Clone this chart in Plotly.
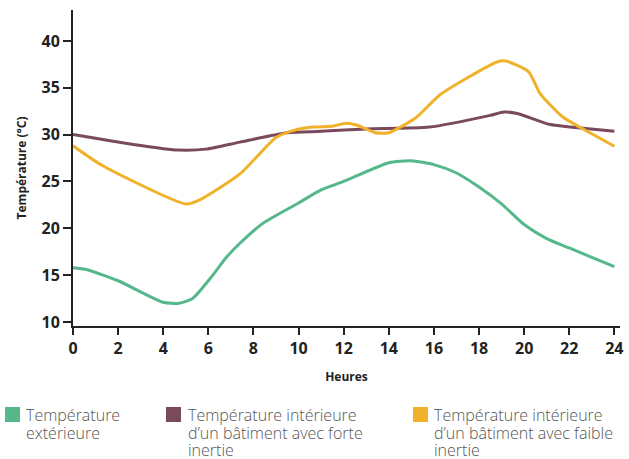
import plotly.graph_objects as go

# Température extérieure
ext_h = [0, 0.6, 2, 4, 4.7, 5.3, 6.2, 6.8, 7.4, 8.4, 10, 11, 12, 14, 15, 16, 17, 18, 19, 20, 21, 22, 23, 24]
ext_t = [15.8, 15.6, 14.4, 12.1, 12.0, 12.5, 15.0, 16.9, 18.4, 20.5, 22.7, 24.1, 25.0, 27.0, 27.2, 26.8, 25.9, 24.4, 22.6, 20.4, 18.9, 17.9, 16.9, 15.9]

# Bâtiment avec forte inertie
forte_h = [0, 1, 2.4, 4, 4.7, 5.9, 7.4, 9.5, 11, 13, 15.8, 18.5, 19.1, 19.7, 21.1, 22.5, 24]
forte_t = [30.0, 29.6, 29.05, 28.5, 28.35, 28.45, 29.2, 30.2, 30.35, 30.6, 30.8, 32.05, 32.4, 32.25, 31.1, 30.7, 30.35]

# Bâtiment avec faible inertie
faible_h = [0, 1.3, 5.0, 5.6, 7.4, 9.0, 9.8, 10.6, 11.5, 12.1, 12.6, 13.4, 14.0, 15.2, 16.3, 18.8, 19.2, 20.2, 20.7, 21.7, 22.5, 24]
faible_t = [28.8, 26.7, 22.6, 23.0, 25.8, 29.7, 30.45, 30.8, 30.9, 31.2, 31.0, 30.2, 30.2, 31.8, 34.3, 37.75, 37.85, 36.7, 34.4, 31.9, 30.75, 28.75]

x_ticks = [0, 2, 4, 6, 8, 10, 12, 14, 16, 18, 20, 22, 24]
y_ticks = [10, 15, 20, 25, 30, 35, 40]

legend_lines = [
    ["Température", "extérieure"],
    ["Température intérieure", "d’un bâtiment avec forte", "inertie"],
    ["Température intérieure", "d’un bâtiment avec faible", "inertie"],
]
line_colors = ["#55B88A", "#7A4A5C", "#F0B22A"]
series = [(ext_h, ext_t), (forte_h, forte_t), (faible_h, faible_t)]

FONT = "Open Sans"

fig = go.Figure()
for (hx, ty), c in zip(series, line_colors):
    fig.add_trace(go.Scatter(x=hx, y=ty, mode="lines",
                             line=dict(color=c, width=3, shape="spline", smoothing=0.6),
                             showlegend=False, hoverinfo="skip"))

# Custom legend below the plot (plot area: left 73px, width 547px, top 10px, height 316px)
PL, PW, PB, PH = 73, 547, 326, 316
def px_x(p):
    return (p - PL) / PW
def px_y(p):
    return (PB - p) / PH

square_left = [5, 166, 413]
text_left = [24, 186, 432]
line_centers = [415, 432.5, 449.5]
shapes = []
annotations = []
for i, c in enumerate(line_colors):
    shapes.append(dict(type="rect", xref="paper", yref="paper",
                       x0=px_x(square_left[i]), x1=px_x(square_left[i] + 15),
                       y0=px_y(422), y1=px_y(407),
                       fillcolor=c, line=dict(width=0)))
    for j, txt in enumerate(legend_lines[i]):
        annotations.append(dict(text=txt, xref="paper", yref="paper",
                                x=px_x(text_left[i]), y=px_y(line_centers[j]),
                                xanchor="left", yanchor="middle", showarrow=False,
                                font=dict(family=FONT, size=16, color="#555555", weight=300)))

fig.update_layout(
    width=629, height=459,
    margin=dict(l=73, r=9, t=10, b=133, autoexpand=False),
    paper_bgcolor="white", plot_bgcolor="white",
    showlegend=False,
    shapes=shapes, annotations=annotations,
    xaxis=dict(range=[0, 24.25], tickvals=x_ticks, ticktext=[str(v) for v in x_ticks],
               showgrid=False, zeroline=False, showline=True, linecolor="#222",
               linewidth=2, ticks="outside", ticklen=7, tickwidth=1.5, tickcolor="#222",
               tickfont=dict(family=FONT, size=16, color="#222", weight="bold"),
               title=dict(text="Heures", standoff=14,
                          font=dict(family=FONT, size=12, color="#222", weight="bold"))),
    yaxis=dict(range=[9.57, 43.3], tickvals=y_ticks, ticktext=[str(v) for v in y_ticks],
               showgrid=False, zeroline=False, showline=True, linecolor="#222",
               linewidth=2, ticks="outside", ticklen=8, tickwidth=1.5, tickcolor="#222",
               tickfont=dict(family=FONT, size=16, color="#222", weight="bold"),
               title=dict(text="Température (°C)", standoff=12,
                          font=dict(family=FONT, size=12, color="#222", weight="bold"))),
)

fig.write_html("out.html",
               config={"displayModeBar": False},
               post_script="document.body.style.margin='0';document.body.style.overflow='hidden';")
